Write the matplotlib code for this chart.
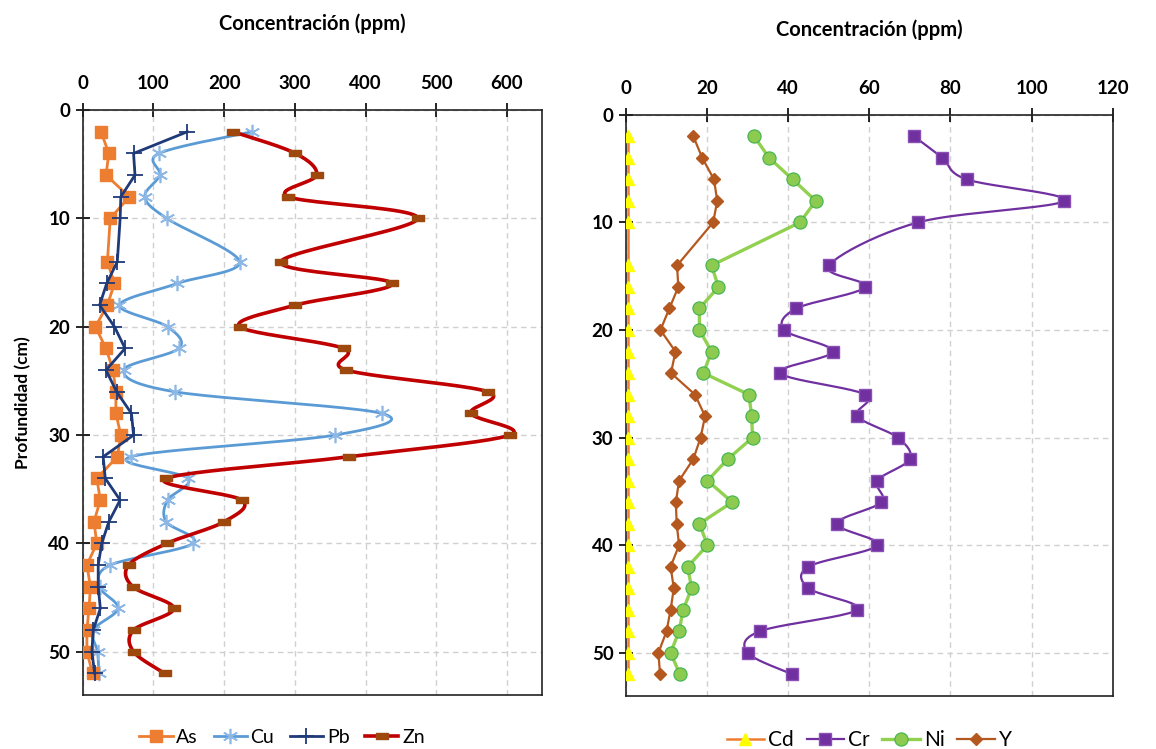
import numpy as np
import matplotlib.pyplot as plt
from matplotlib.lines import Line2D
from matplotlib.path import Path

plt.rcParams['font.family'] = ['Lato', 'DejaVu Sans']

# profundidad de cada muestra (cm)
depth = [2, 4, 6, 8, 10, 14, 16, 18, 20, 22, 24, 26, 28, 30, 32, 34,
         36, 38, 40, 42, 44, 46, 48, 50, 52]

# elementos mayores (ppm)
As = [26, 37, 33, 66, 39, 35, 45, 35, 18, 33, 43, 47, 47, 54, 49, 20,
      25, 16, 20, 6, 11, 9, 6, 6, 14]
Cu = [239, 108, 109, 88, 119, 222, 134, 52, 120, 136, 58, 130, 423, 357, 68, 149,
      120, 118, 156, 39, 24, 50, 15, 21, 23]
Pb = [148, 72, 74, 54, 53, 49, 34, 24, 45, 60, 33, 48, 69, 72, 29, 32,
      53, 37, 27, 22, 22, 25, 15, 13, 17]
Zn = [213, 301, 331, 291, 474, 280, 438, 301, 222, 369, 373, 573, 549, 604, 377, 118,
      225, 200, 119, 65, 71, 129, 72, 72, 116]

# elementos traza (ppm)
Cd = [0.4] * 25
Cr = [71, 78, 84, 108, 72, 50, 59, 42, 39, 51, 38, 59, 57, 67, 70, 62,
      63, 52, 62, 45, 45, 57, 33, 30, 41]
Ni = [31.6, 35.3, 41.1, 46.8, 42.9, 21.1, 22.8, 18.1, 18.1, 21.1, 19.1, 30.3, 31, 31.2, 25.1, 20.1,
      26.2, 18.1, 20.1, 15.2, 16.2, 14.1, 13.1, 11, 13.3]
Y = [16.6, 18.8, 21.7, 22.5, 21.5, 12.6, 12.9, 10.7, 8.5, 12.2, 11.1, 17, 19.5, 18.4, 16.6, 13.1,
     12.3, 12.5, 13.1, 11, 11.8, 11, 10, 8, 8.4]

zn_mark = Path([(-1, -0.55), (1, -0.55), (1, 0.55), (-1, 0.55), (-1, -0.55)],
               [Path.MOVETO, Path.LINETO, Path.LINETO, Path.LINETO, Path.CLOSEPOLY])
star = (6, 2, 0)


def smooth(ax, xs, ys, n=24):
    # curva suavizada tipo Excel (Bezier con tangentes Catmull-Rom) en pixeles
    pts = ax.transData.transform(np.column_stack([xs, ys]))
    P = np.vstack([pts[0], pts, pts[-1]])
    t = np.linspace(0, 1, n)[:, None]
    segs = []
    for i in range(1, len(P) - 2):
        p0, p1, p2, p3 = P[i - 1], P[i], P[i + 1], P[i + 2]
        c1 = p1 + (p2 - p0) / 6
        c2 = p2 - (p3 - p1) / 6
        segs.append((1 - t) ** 3 * p1 + 3 * (1 - t) ** 2 * t * c1
                    + 3 * (1 - t) * t ** 2 * c2 + t ** 3 * p2)
    c = ax.transData.inverted().transform(np.vstack(segs))
    return c[:, 0], c[:, 1]


def style(ax, xmax, xstep):
    ax.set_xlim(0, xmax)
    ax.set_ylim(54, 0)
    ax.set_xticks(np.arange(0, xmax + 1, xstep))
    ax.set_yticks(np.arange(0, 51, 10))
    ax.xaxis.tick_top()
    ax.tick_params(axis='both', direction='inout', length=10, width=1.2,
                   labelsize=13.5, colors='black')
    ax.tick_params(axis='x', pad=8)
    ax.tick_params(axis='y', pad=4)
    for lab in ax.get_xticklabels() + ax.get_yticklabels():
        lab.set_fontweight('bold')
    ax.grid(True, color='#d0d0d0', linestyle=(0, (4, 3)), linewidth=1)
    ax.set_axisbelow(True)
    for s in ax.spines.values():
        s.set_color('#222222')
        s.set_linewidth(1.2)


fig = plt.figure(figsize=(11.56, 7.49), dpi=100)

ax1 = fig.add_axes([0.0715, 0.072, 0.3976, 0.781])
style(ax1, 650, 100)
ax2 = fig.add_axes([0.5415, 0.071, 0.421, 0.7757])
style(ax2, 120, 20)

# panel izquierdo
c_as, c_cu, c_pb, c_zn = '#ED7D31', '#5B9BD5', '#1F3A78', '#C00000'
ax1.plot(As, depth, color=c_as, lw=2, marker='s', ms=8, mfc=c_as, mec=c_as, zorder=4)
sx, sy = smooth(ax1, Cu, depth)
ax1.plot(sx, sy, color=c_cu, lw=2, zorder=3)
ax1.plot(Cu, depth, ls='none', marker=star, ms=11, mec='#8DB8E6', mew=1.2, zorder=3)
ax1.plot(Pb, depth, color=c_pb, lw=2, marker='+', ms=12, mec=c_pb, mew=1.3, zorder=5)
sx, sy = smooth(ax1, Zn, depth)
ax1.plot(sx, sy, color=c_zn, lw=2.6, zorder=3)
ax1.plot(Zn, depth, ls='none', marker=zn_mark, ms=9, mfc='#9E480E', mec='#9E480E', zorder=4)
ax1.set_title('Concentración (ppm)', fontsize=14.5, fontweight='bold', pad=58)
ax1.set_ylabel('Profundidad (cm)', fontsize=12.5, fontweight='bold', labelpad=12)

# panel derecho
c_cd, c_cr, c_ni, c_y = '#ED7D31', '#7030A0', '#92D050', '#B5581F'
ax2.plot(Cd, depth, color=c_cd, lw=1.8, marker='^', ms=8, mfc='#FFFF00', mec='#FFFF00', zorder=4)
sx, sy = smooth(ax2, Cr, depth)
ax2.plot(sx, sy, color=c_cr, lw=1.6, zorder=3)
ax2.plot(Cr, depth, ls='none', marker='s', ms=9, mfc=c_cr, mec='#8A4FB5', zorder=4)
ax2.plot(Ni, depth, color=c_ni, lw=2.4, marker='o', ms=9.5, mfc='#8CCB50', mec='#3FB34F', mew=0.8, zorder=4)
ax2.plot(Y, depth, color=c_y, lw=1.6, marker='D', ms=6, mfc=c_y, mec=c_y, zorder=4)
ax2.set_title('Concentración (ppm)', fontsize=14.5, fontweight='bold', pad=57)

h1 = [Line2D([], [], color=c_as, lw=2, marker='s', ms=8, mfc=c_as, mec=c_as),
      Line2D([], [], color=c_cu, lw=2, marker=star, ms=11, mec='#8DB8E6', mew=1.2),
      Line2D([], [], color=c_pb, lw=2, marker='+', ms=12, mec=c_pb, mew=1.3),
      Line2D([], [], color=c_zn, lw=2.6, marker=zn_mark, ms=9, mfc='#9E480E', mec='#9E480E')]
fig.legend(h1, ['As', 'Cu', 'Pb', 'Zn'], loc='center', bbox_to_anchor=(0.244, 0.016),
           ncol=4, frameon=False, fontsize=14, handlelength=1.7, handletextpad=0.2,
           columnspacing=0.8)

h2 = [Line2D([], [], color=c_cd, lw=1.8, marker='^', ms=8, mfc='#FFFF00', mec='#FFFF00'),
      Line2D([], [], color=c_cr, lw=1.6, marker='s', ms=9, mfc=c_cr, mec='#8A4FB5'),
      Line2D([], [], color=c_ni, lw=2.4, marker='o', ms=9.5, mfc='#8CCB50', mec='#3FB34F', mew=0.8),
      Line2D([], [], color=c_y, lw=1.6, marker='D', ms=6, mfc=c_y, mec=c_y)]
fig.legend(h2, ['Cd', 'Cr', 'Ni', 'Y'], loc='center', bbox_to_anchor=(0.752, 0.012),
           ncol=4, frameon=False, fontsize=15, handlelength=1.8, handletextpad=0.2,
           columnspacing=0.6)

fig.savefig('out.png', dpi=100)
